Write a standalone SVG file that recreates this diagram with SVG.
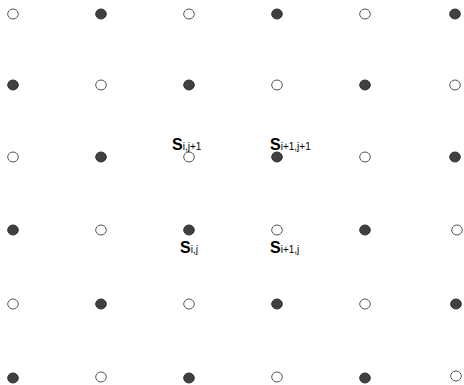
<svg xmlns="http://www.w3.org/2000/svg" width="464" height="385" viewBox="0 0 464 385">
<style>
.o{fill:#fff;stroke:#555;stroke-width:1}
.f{fill:#404040;stroke:#333;stroke-width:1}
.lbl{font-family:"Liberation Sans",Arial,sans-serif;fill:#000}
.s{font-size:16px;font-weight:bold}
.sub{font-size:10px}
</style>
<defs>
<ellipse id="c" cx="0" cy="0" rx="5.3" ry="5"/>
</defs>
<rect width="464" height="385" fill="#fff"/>
<g id="row0">
<use href="#c" class="o" x="13" y="14"/><use href="#c" class="f" x="101" y="14"/><use href="#c" class="o" x="189" y="14"/><use href="#c" class="f" x="277" y="14"/><use href="#c" class="o" x="365" y="14"/><use href="#c" class="f" x="455" y="14"/>
</g>
<g id="row1">
<use href="#c" class="f" x="13" y="85"/><use href="#c" class="o" x="101" y="85"/><use href="#c" class="f" x="189" y="85"/><use href="#c" class="o" x="277" y="85"/><use href="#c" class="f" x="365" y="85"/><use href="#c" class="o" x="455" y="85"/>
</g>
<g id="row2">
<use href="#c" class="o" x="13" y="157"/><use href="#c" class="f" x="101" y="157"/><use href="#c" class="o" x="189" y="157"/><use href="#c" class="f" x="277" y="157"/><use href="#c" class="o" x="365" y="157"/><use href="#c" class="f" x="455" y="157"/>
</g>
<g id="row3">
<use href="#c" class="f" x="13" y="230"/><use href="#c" class="o" x="101" y="230"/><use href="#c" class="f" x="189" y="230"/><use href="#c" class="o" x="277" y="230"/><use href="#c" class="f" x="365" y="230"/><use href="#c" class="o" x="457" y="230"/>
</g>
<g id="row4">
<use href="#c" class="o" x="13" y="304"/><use href="#c" class="f" x="101" y="304"/><use href="#c" class="o" x="189" y="304"/><use href="#c" class="f" x="277" y="304"/><use href="#c" class="o" x="365" y="304"/><use href="#c" class="f" x="456" y="304"/>
</g>
<g id="row5">
<use href="#c" class="f" x="13" y="378"/><use href="#c" class="o" x="101" y="377"/><use href="#c" class="f" x="189" y="378"/><use href="#c" class="o" x="277" y="377"/><use href="#c" class="f" x="365" y="378"/><use href="#c" class="o" x="456" y="376"/>
</g>
<g id="labels" class="lbl">
<text x="172" y="150"><tspan class="s">S</tspan><tspan class="sub">i,j+1</tspan></text>
<text x="270" y="150"><tspan class="s">S</tspan><tspan class="sub">i+1,j+1</tspan></text>
<text x="180" y="253"><tspan class="s">S</tspan><tspan class="sub">i,j</tspan></text>
<text x="270" y="253"><tspan class="s">S</tspan><tspan class="sub">i+1,j</tspan></text>
</g>
</svg>
